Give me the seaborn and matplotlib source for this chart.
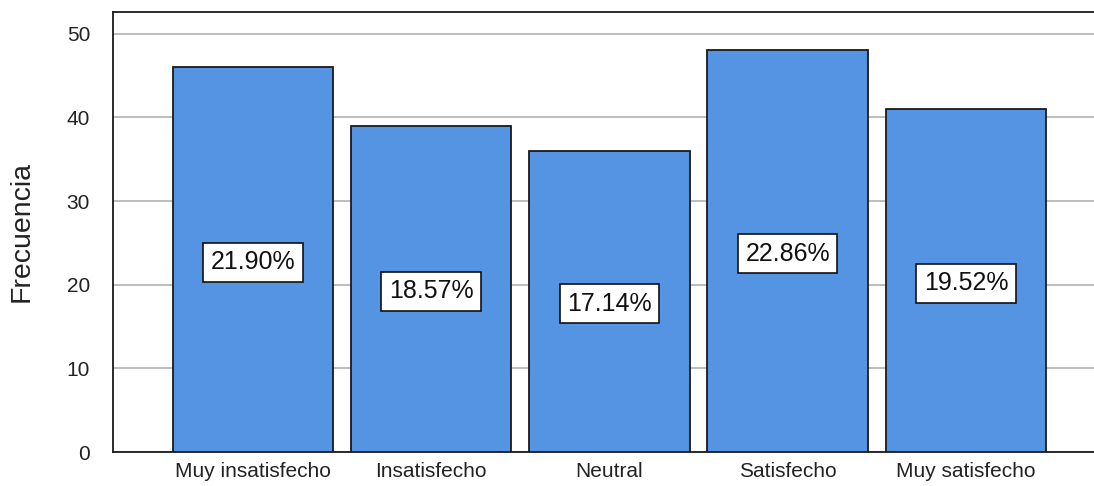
import matplotlib
matplotlib.use("Agg")
import matplotlib.pyplot as plt
import seaborn as sns
import pandas as pd

categories = ["Muy insatisfecho", "Insatisfecho", "Neutral", "Satisfecho", "Muy satisfecho"]
frequencies = [46, 39, 36, 48, 41]
percent_labels = ["21.90%", "18.57%", "17.14%", "22.86%", "19.52%"]
y_ticks = [0, 10, 20, 30, 40, 50]

sns.set_theme(style="white")
plt.rcParams["font.family"] = ["Liberation Sans", "DejaVu Sans"]

df = pd.DataFrame({"categoria": categories, "frecuencia": frequencies})

fig = plt.figure(figsize=(10.94, 4.86), dpi=100)
ax = fig.add_axes([113 / 1094, 1 - 452 / 486, (1094 - 113) / 1094 + 0.01, (452 - 12) / 486])

sns.barplot(data=df, x="categoria", y="frecuencia", color="#5594e3", saturation=1,
            width=0.9, edgecolor="#1a1a1a", linewidth=1.3, ax=ax, zorder=3)

ax.set_ylim(0, 52.6)
ax.set_xlim(-0.784, 4.78)
ax.set_yticks(y_ticks)
ax.yaxis.grid(True, color="#b8b8b8", linewidth=1.3, zorder=0)
ax.set_axisbelow(True)

for spine in ["left", "top", "bottom"]:
    ax.spines[spine].set_color("#1a1a1a")
    ax.spines[spine].set_linewidth(1.3)
ax.spines["right"].set_visible(False)

ax.tick_params(axis="y", which="major", length=9.5, width=1.3, color="#b8b8b8",
               labelsize=15, labelcolor="#222222", pad=7)
ax.tick_params(axis="x", length=0, labelsize=15, labelcolor="#222222", pad=7)
ax.set_xlabel("")
ax.set_ylabel("Frecuencia", fontsize=20.5, color="#222222", labelpad=23)

for i, (val, lab) in enumerate(zip(frequencies, percent_labels)):
    ax.text(i, val / 2 - 0.3, lab, ha="center", va="center", fontsize=18, color="#111111",
            zorder=5,
            bbox=dict(boxstyle="square,pad=0.3", facecolor="white",
                      edgecolor="#111111", linewidth=1.2))

fig.savefig("out.png", dpi=100)
